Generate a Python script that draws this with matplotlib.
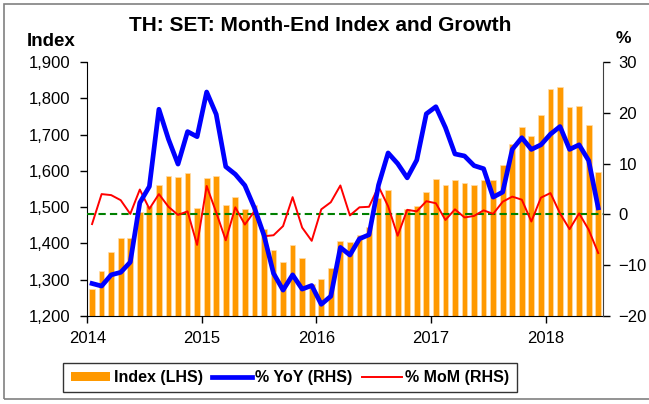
import numpy as np
import matplotlib
matplotlib.use("Agg")
import matplotlib.pyplot as plt
from matplotlib.patches import Patch, Rectangle
from matplotlib.lines import Line2D
from matplotlib.ticker import FuncFormatter

plt.rcParams['font.family'] = ['Liberation Sans', 'DejaVu Sans']

# ==========================================
# data: SET month-end index, Jan 2014 - Jun 2018
# ==========================================
year_labels = ['2014', '2015', '2016', '2017', '2018']

index_lhs = [
    1274, 1325, 1376, 1415, 1416, 1486, 1502, 1562, 1586, 1584, 1594, 1498,   # 2014
    1581, 1587, 1506, 1527, 1496, 1505, 1440, 1381, 1349, 1395, 1359, 1288,   # 2015
    1301, 1332, 1408, 1405, 1424, 1445, 1524, 1548, 1483, 1496, 1504, 1543,   # 2016
    1577, 1560, 1575, 1566, 1562, 1575, 1576, 1616, 1673, 1721, 1697, 1754,   # 2017
    1827, 1830, 1776, 1780, 1727, 1596,                                       # 2018
]

yoy_rhs = [
    -13.6, -14.1, -11.9, -11.4, -9.4, 2.3, 5.5, 20.7, 14.8, 9.9, 16.3, 15.3,
    24.1, 19.7, 9.4, 7.9, 5.7, 1.3, -4.1, -11.6, -14.9, -11.9, -14.7, -14.0,
    -17.7, -16.1, -6.5, -8.0, -4.8, -4.0, 5.8, 12.1, 10.0, 7.2, 10.7, 19.8,
    21.2, 17.1, 11.9, 11.5, 9.6, 9.0, 3.4, 4.4, 12.8, 15.1, 12.8, 13.7,
    15.8, 17.3, 12.8, 13.7, 10.6, 1.3,
]

mom_rhs = [
    -1.9, 4.0, 3.8, 2.8, 0.1, 4.9, 1.1, 4.0, 1.5, -0.1, 0.6, -6.0,
    5.6, 0.4, -5.1, 1.4, -2.0, 0.6, -4.3, -4.1, -2.3, 3.4, -2.6, -5.2,
    1.0, 2.4, 5.7, -0.2, 1.4, 1.5, 5.5, 1.6, -4.2, 0.9, 0.6, 2.6,
    2.2, -1.1, 1.0, -0.6, -0.3, 0.8, 0.1, 2.5, 3.5, 2.9, -1.4, 3.3,
    4.2, 0.2, -2.9, 0.2, -3.0, -7.6,
]

n = len(index_lhs)
x = np.arange(n) + 0.5

# ==========================================
# figure
# ==========================================
fig = plt.figure(figsize=(6.49, 4.04), dpi=100)
ax = fig.add_axes([0.1345, 0.2178, 0.7946, 0.6287])

ax.bar(x, index_lhs, width=0.6, color='#FF9900', edgecolor='#FFDDAA',
       linewidth=0.5, zorder=2)
ax.set_ylim(1200, 1900)
ax.set_yticks(np.arange(1200, 1901, 100))
ax.yaxis.set_major_formatter(FuncFormatter(lambda v, p: f'{int(v):,}'))
ax.set_xlim(0, n)
ax.set_xticks(np.arange(0, n, 12))
ax.set_xticklabels(year_labels)

ax2 = ax.twinx()
ax2.axhline(0, color='#008000', lw=1.5, dashes=(3.5, 2), zorder=1)
ax2.plot(x, mom_rhs, color='#FF0000', lw=1.4, zorder=2)
ax2.plot(x, yoy_rhs, color='#0000FF', lw=3.4, zorder=3)
ax2.set_ylim(-20, 30)
ax2.set_yticks(np.arange(-20, 31, 10))

for a in (ax, ax2):
    a.spines['top'].set_visible(False)
    a.tick_params(direction='out', length=5, width=1, labelsize=12,
                  colors='black', pad=3)
ax.spines['right'].set_visible(False)
ax2.spines['left'].set_visible(False)
ax2.spines['bottom'].set_visible(False)
ax2.spines['right'].set_color('#404040')
ax.spines['bottom'].set_color('black')
ax.spines['left'].set_color('black')
ax.tick_params(axis='y', pad=7)
ax2.tick_params(axis='y', pad=6)
ax.tick_params(axis='x', pad=6)

fig.text(0.493, 0.938, 'TH: SET: Month-End Index and Growth', ha='center',
         va='center', fontsize=15, fontweight='bold')
fig.text(0.079, 0.898, 'Index', ha='center', va='center', fontsize=13.5,
         fontweight='bold')
fig.text(0.960, 0.905, '%', ha='center', va='center', fontsize=12.5,
         fontweight='bold')

handles = [
    Patch(facecolor='#FF9900', edgecolor='none'),
    Line2D([], [], color='#0000FF', lw=3.4),
    Line2D([], [], color='#FF0000', lw=1.4),
]
labels = ['Index (LHS)', '% YoY (RHS)', '% MoM (RHS)']
leg = fig.legend(handles, labels, loc='center', bbox_to_anchor=(0.4468, 0.0656),
                 ncol=3, frameon=True, fancybox=False, edgecolor='black',
                 prop={'weight': 'bold', 'size': 11.5}, handlelength=2.5,
                 handleheight=0.5, columnspacing=0.6, handletextpad=0.2,
                 borderpad=0.45, borderaxespad=0)
leg.get_frame().set_linewidth(1.0)

# outer chart border
fig.patches.append(Rectangle((4 / 649, 5 / 404), 1.0, 1 - 9 / 404,
                             transform=fig.transFigure, fill=False,
                             edgecolor='#808080', lw=1.2))

fig.savefig('out.png', dpi=100)
